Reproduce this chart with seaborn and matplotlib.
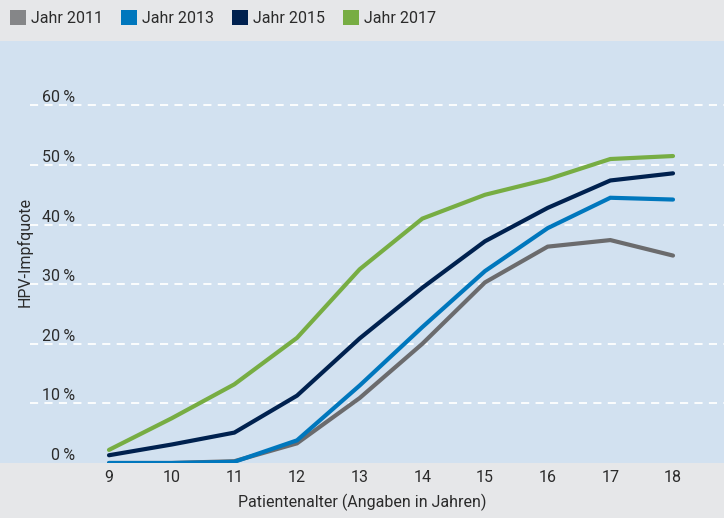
import matplotlib
matplotlib.use("Agg")
import matplotlib.pyplot as plt
from matplotlib.patches import Patch
import seaborn as sns
import pandas as pd

ages = [9, 10, 11, 12, 13, 14, 15, 16, 17, 18]
jahr_2011 = [0.0, 0.0, 0.3, 3.3, 10.9, 20.0, 30.3, 36.3, 37.4, 34.8]
jahr_2013 = [0.0, 0.0, 0.2, 3.8, 13.0, 22.8, 32.2, 39.4, 44.5, 44.2]
jahr_2015 = [1.3, 3.1, 5.1, 11.3, 20.9, 29.4, 37.2, 42.8, 47.4, 48.6]
jahr_2017 = [2.2, 7.5, 13.2, 21.0, 32.5, 41.0, 45.0, 47.6, 51.0, 51.5]
series_names = ["Jahr 2011", "Jahr 2013", "Jahr 2015", "Jahr 2017"]
y_ticks = [0, 10, 20, 30, 40, 50, 60]
y_tick_labels = ["0\u2009%", "10\u2009%", "20\u2009%", "30\u2009%", "40\u2009%", "50\u2009%", "60\u2009%"]

colors = ["#6b6b6d", "#0077bd", "#00214f", "#77ad43"]
legend_colors = ["#858688", "#0077bd", "#00214f", "#77ad43"]

sns.set_theme(style="white")
plt.rcParams["font.family"] = ["Roboto", "DejaVu Sans"]

df = pd.DataFrame({
    "Alter": ages * 4,
    "Quote": jahr_2011 + jahr_2013 + jahr_2015 + jahr_2017,
    "Serie": sum([[n] * len(ages) for n in series_names], []),
})

W, H = 724, 518
fig = plt.figure(figsize=(W / 100, H / 100), dpi=100)
fig.patch.set_facecolor("#e6e7e9")
ax = fig.add_axes([0, 55 / H, 1, 422 / H])
ax.set_facecolor("#d2e1f0")

# gridlines
for yv in y_ticks[1:]:
    ax.axhline(yv, xmin=30 / W, xmax=1, color="white", lw=1.3,
               dashes=(4.5, 3.5), zorder=1)

sns.lineplot(data=df, x="Alter", y="Quote", hue="Serie", palette=colors,
             linewidth=3.0, ax=ax, legend=False, zorder=3,
             solid_capstyle="round", solid_joinstyle="miter")

ax.set_xlim(9 - 109 / 62.67, 18 + 51 / 62.67)
ax.set_ylim(0, 70.8)
for s in ax.spines.values():
    s.set_visible(False)

ax.set_xticks(ages)
ax.set_xticklabels([str(a) for a in ages], fontsize=11.5, color="#2b2b2b")
ax.tick_params(axis="x", length=0, pad=5)
ax.set_yticks(y_ticks)
ax.set_yticklabels(y_tick_labels, fontsize=11.5, color="#2b2b2b")
ax.tick_params(axis="y", length=0, pad=-54)
for lab in ax.get_yticklabels():
    lab.set_verticalalignment("bottom")

ax.set_xlabel("Patientenalter (Angaben in Jahren)", fontsize=11.5,
              color="#2b2b2b", labelpad=6)
ax.set_ylabel("HPV-Impfquote", fontsize=11.5, color="#2b2b2b")
ax.yaxis.set_label_coords(33 / W, 0.5)

handles = [Patch(facecolor=c, edgecolor="none") for c in legend_colors]
leg = fig.legend(handles, series_names, loc="upper left",
                 bbox_to_anchor=(0.0, 1.0), ncol=4, frameon=False,
                 prop={"size": 11.5},
                 handlelength=1.0, handleheight=1.0,
                 handletextpad=0.32, columnspacing=1.12,
                 borderaxespad=0.2, borderpad=0.45)
for t in leg.get_texts():
    t.set_color("#2b2b2b")

fig.savefig("out.png", dpi=100, facecolor=fig.get_facecolor())
